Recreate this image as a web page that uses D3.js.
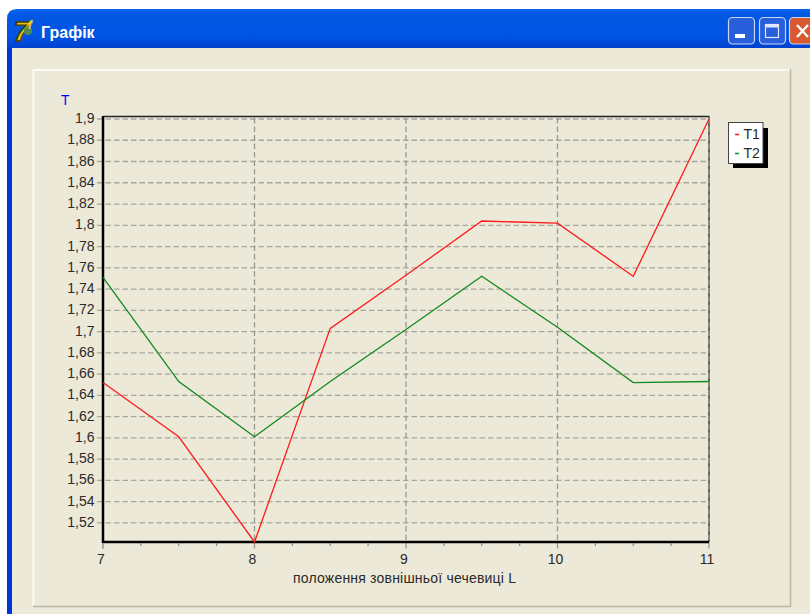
<!DOCTYPE html>
<html>
<head>
<meta charset="utf-8">
<script src="https://cdn.jsdelivr.net/npm/d3@7"></script>
<style>
  html, body { margin: 0; padding: 0; background: #fff; overflow: hidden; }
  text { font-family: "Liberation Sans", Arial, sans-serif; }
</style>
</head>
<body>
<svg id="chart" width="810" height="614"></svg>
<script>
const positions = [7, 7.5, 8, 8.5, 9, 9.5, 10, 10.5, 11];
const t1Values = [1.652, 1.601, 1.502, 1.703, 1.753, 1.804, 1.802, 1.752, 1.9];
const t2Values = [1.751, 1.653, 1.601, 1.653, 1.702, 1.752, 1.704, 1.652, 1.653];
const yTicks = [1.52, 1.54, 1.56, 1.58, 1.6, 1.62, 1.64, 1.66, 1.68, 1.7, 1.72, 1.74, 1.76, 1.78, 1.8, 1.82, 1.84, 1.86, 1.88, 1.9];
const xTicks = [7, 8, 9, 10, 11];
const xMinorTicks = [7.25, 7.5, 7.75, 8.25, 8.5, 8.75, 9.25, 9.5, 9.75, 10.25, 10.5, 10.75];
const seriesNames = ["T1", "T2"];
const seriesColors = ["#ff1a1a", "#108a20"];

const svg = d3.select("#chart");
const panel = "#ece9d8";

// window chrome
const titleGrad = svg.append("defs").append("linearGradient")
	.attr("id", "title").attr("gradientUnits", "userSpaceOnUse")
	.attr("x1", 0).attr("x2", 0).attr("y1", 9).attr("y2", 48);
titleGrad.append("stop").attr("offset", "0").attr("stop-color", "#0a66ee");
titleGrad.append("stop").attr("offset", "0.15").attr("stop-color", "#0258e2");
titleGrad.append("stop").attr("offset", "0.7").attr("stop-color", "#0054e6");
titleGrad.append("stop").attr("offset", "1").attr("stop-color", "#0040cc");

svg.append("path")
	.attr("d", "M7,614 V19 Q7,9 17,9 H810 V614 Z")
	.attr("fill", "url(#title)");
svg.append("rect").attr("x", 7).attr("y", 48).attr("width", 5).attr("height", 566).attr("fill", "#0035d8");
svg.append("rect").attr("x", 12).attr("y", 48).attr("width", 798).attr("height", 566).attr("fill", panel);

// title icon
svg.append("text").attr("x", 14).attr("y", 41)
	.attr("font-size", 28).attr("font-weight", "bold").attr("font-style", "italic")
	.attr("fill", "#e0c818").attr("stroke", "#4a3c00").attr("stroke-width", 1.4).text("7");
svg.append("circle").attr("cx", 28).attr("cy", 31).attr("r", 4).attr("fill", "#4f8a58");
svg.append("text").attr("x", 28).attr("y", 29)
	.attr("font-size", 12).attr("font-weight", "bold").attr("font-style", "italic")
	.attr("fill", "#e8d820").text("f");
svg.append("text").attr("x", 41).attr("y", 38)
	.attr("font-size", 16).attr("font-weight", "bold").attr("fill", "#fff").text("Графік");

// window buttons
[[728.5, "#2a5fdc"], [759.5, "#2a5fdc"], [789.5, "#d9582f"]].forEach(b => {
	svg.append("rect").attr("x", b[0]).attr("y", 17.5).attr("width", 26).attr("height", 26.5).attr("rx", 4)
		.attr("fill", b[1]).attr("stroke", "#c6d5f5").attr("stroke-width", 1.2);
});
svg.append("rect").attr("x", 735).attr("y", 34).attr("width", 10).attr("height", 4).attr("fill", "#fff");
svg.append("rect").attr("x", 765.5).attr("y", 24.5).attr("width", 13).attr("height", 13)
	.attr("fill", "none").attr("stroke", "#dfe8fb").attr("stroke-width", 1.2);
svg.append("rect").attr("x", 765.5).attr("y", 24.5).attr("width", 13).attr("height", 3).attr("fill", "#dfe8fb");
svg.append("path").attr("d", "M797,25 L808,37 M808,25 L797,37").attr("stroke", "#fff").attr("stroke-width", 2.4);

// inner group box
svg.append("path").attr("d", "M33.5,607 V70 H790").attr("fill", "none").attr("stroke", "#fbfaf6").attr("stroke-width", 2);
svg.append("path").attr("d", "M33,606.5 H790.5 V69").attr("fill", "none").attr("stroke", "#bcb8a6").attr("stroke-width", 1.5);

// scales
const x = d3.scaleLinear().domain([7, 11]).range([103, 709]);
const y = d3.scaleLinear().domain([1.502, 1.9]).range([542, 119]);

// frame under grid
svg.append("line").attr("x1", 103).attr("x2", 709).attr("y1", 116.5).attr("y2", 116.5).attr("stroke", "#222").attr("stroke-width", 1.3);
svg.append("line").attr("x1", 709).attr("x2", 709).attr("y1", 116).attr("y2", 542).attr("stroke", "#444").attr("stroke-width", 1.6);

// grid
svg.append("g").selectAll("line").data(yTicks).enter().append("line")
	.attr("x1", 97).attr("x2", 709)
	.attr("y1", d => y(d)).attr("y2", d => y(d))
	.attr("stroke", "#a8a79f").attr("stroke-width", 1.3).attr("stroke-dasharray", "5.5,3");
svg.append("g").selectAll("line").data(xTicks.slice(1)).enter().append("line")
	.attr("x1", d => x(d)).attr("x2", d => x(d))
	.attr("y1", 118).attr("y2", 549)
	.attr("stroke", "#9a9991").attr("stroke-width", 1.3).attr("stroke-dasharray", "5.5,3");

// axis lines
svg.append("line").attr("x1", 103).attr("x2", 103).attr("y1", 116).attr("y2", 543).attr("stroke", "#000").attr("stroke-width", 2.5);
svg.append("line").attr("x1", 102).attr("x2", 709).attr("y1", 542).attr("y2", 542).attr("stroke", "#000").attr("stroke-width", 2.5);

// minor ticks
svg.append("g").selectAll("line").data(xMinorTicks).enter().append("line")
	.attr("x1", d => x(d)).attr("x2", d => x(d)).attr("y1", 543).attr("y2", 546)
	.attr("stroke", "#8e8e8b").attr("stroke-width", 1.3);
svg.append("line").attr("x1", 103).attr("x2", 103).attr("y1", 543).attr("y2", 549).attr("stroke", "#8e8e8b").attr("stroke-width", 1.3);

// tick labels
svg.append("g").selectAll("text").data(yTicks).enter().append("text")
	.attr("x", 94.5).attr("y", d => y(d) + 4)
	.attr("text-anchor", "end").attr("font-size", 14).attr("fill", "#2a2a2a")
	.text(d => String(d).replace(".", ","));
svg.append("g").selectAll("text").data(xTicks).enter().append("text")
	.attr("x", d => x(d) - 2).attr("y", 564)
	.attr("text-anchor", "middle").attr("font-size", 14).attr("fill", "#2a2a2a")
	.text(d => d);

// axis titles
svg.append("text").attr("x", 61).attr("y", 105).attr("font-size", 14).attr("fill", "#0000ff").text("T");
svg.append("text").attr("x", 293).attr("y", 583)
	.attr("font-size", 14).attr("textLength", 223).attr("lengthAdjust", "spacing")
	.attr("fill", "#2a2a2a").text("положення зовнішньої чечевиці L");

// lines
const line = d3.line().x((d, i) => x(positions[i])).y(d => y(d));
[t1Values, t2Values].forEach((values, i) => {
	svg.append("path").attr("d", line(values)).attr("fill", "none")
		.attr("stroke", seriesColors[i]).attr("stroke-width", 1.3);
});

// legend
svg.append("rect").attr("x", 733).attr("y", 128).attr("width", 35).attr("height", 40).attr("fill", "#000");
svg.append("rect").attr("x", 728.5).attr("y", 122.5).attr("width", 34.5).attr("height", 41).attr("fill", "#fff").attr("stroke", "#444");
seriesNames.forEach((name, i) => {
	svg.append("line").attr("x1", 735).attr("x2", 739).attr("y1", 134.5 + i * 19).attr("y2", 134.5 + i * 19)
		.attr("stroke", seriesColors[i]).attr("stroke-width", 1.5);
	svg.append("text").attr("x", 743.5).attr("y", 139 + i * 19).attr("font-size", 14).attr("fill", "#2a2a2a").text(name);
});
</script>
</body>
</html>
